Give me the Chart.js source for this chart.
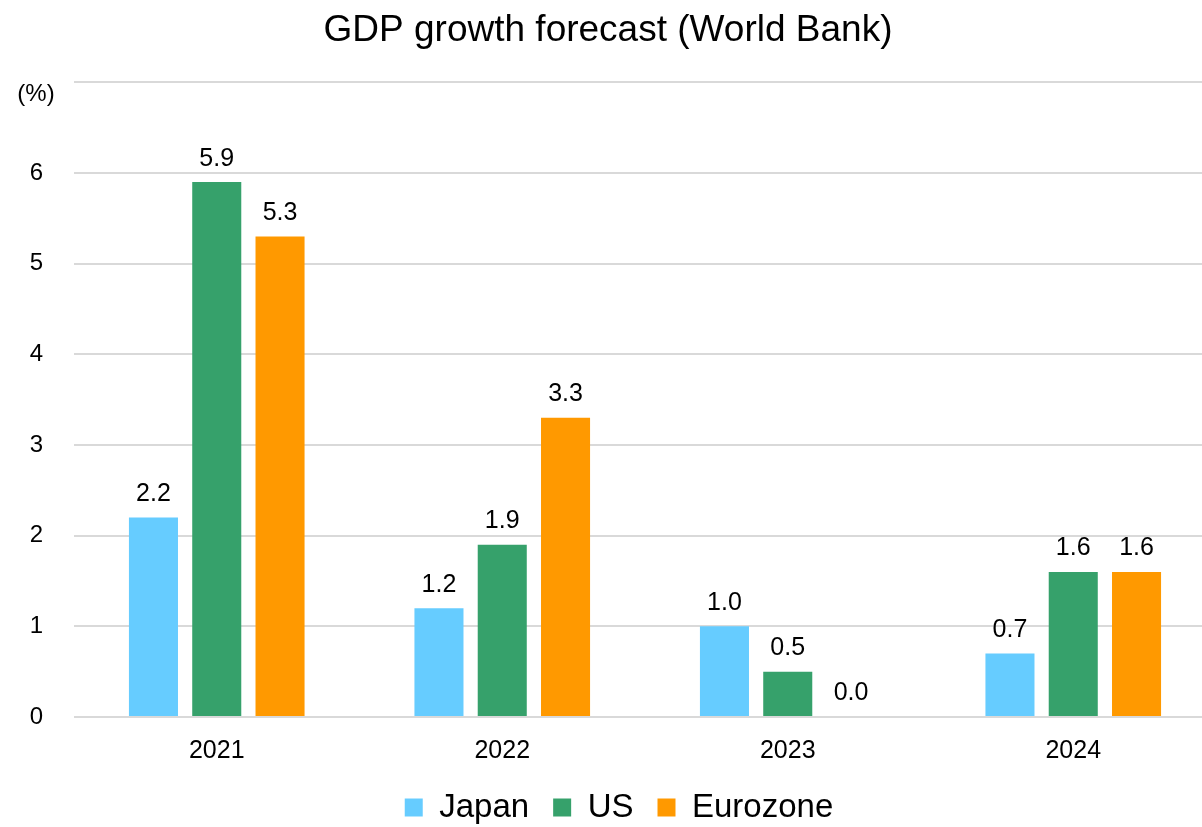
<!DOCTYPE html>
<html>
<head>
<meta charset="utf-8">
<script src="https://cdn.jsdelivr.net/npm/chart.js@4"></script>
<style>
  html, body { margin: 0; padding: 0; background: #fff; overflow: hidden; }
  #wrap { width: 1202px; height: 827px; position: relative; overflow: hidden; }
  canvas { position: absolute; left: 0; top: 0; }
</style>
</head>
<body>
<div id="wrap"><canvas id="c" width="1216" height="827"></canvas></div>
<script>
const categories = ['2021', '2022', '2023', '2024'];
const japan = [2.2, 1.2, 1.0, 0.7];
const us = [5.9, 1.9, 0.5, 1.6];
const eurozone = [5.3, 3.3, 0.0, 1.6];
const seriesNames = ['Japan', 'US', 'Eurozone'];
const yTicks = [0, 1, 2, 3, 4, 5, 6];
const yUnitLabel = '(%)';
const titleText = 'GDP growth forecast (World Bank)';

const FONT = "'Liberation Sans', Arial, sans-serif";

const valueLabels = {
  id: 'valueLabels',
  afterLayout(chart) {
    const lg = chart.legend;
    if (lg) {
      lg.top += 7; lg.bottom += 7;
      lg.left += 11; lg.right += 11;
    }
  },
  afterDatasetsDraw(chart) {
    const ctx = chart.ctx;
    ctx.save();
    ctx.font = '25px ' + FONT;
    ctx.fillStyle = '#000';
    ctx.textAlign = 'center';
    ctx.textBaseline = 'bottom';
    chart.data.datasets.forEach((ds, i) => {
      const meta = chart.getDatasetMeta(i);
      meta.data.forEach((bar, j) => {
        ctx.fillText(ds.data[j].toFixed(1), bar.x, bar.y - 11);
      });
    });
    const ys = chart.scales.y;
    ctx.font = '24px ' + FONT;
    ctx.textAlign = 'center';
    ctx.textBaseline = 'middle';
    ctx.fillText(yUnitLabel, 36, ys.getPixelForValue(7) + 12);
    ctx.restore();
  }
};

new Chart(document.getElementById('c'), {
  type: 'bar',
  data: {
    labels: categories,
    datasets: [
      { label: seriesNames[0], data: japan, backgroundColor: '#66CCFF' },
      { label: seriesNames[1], data: us, backgroundColor: '#36A16B' },
      { label: seriesNames[2], data: eurozone, backgroundColor: '#FF9900' }
    ]
  },
  options: {
    responsive: false,
    animation: false,
    devicePixelRatio: 1,
    layout: { padding: 0 },
    datasets: { bar: { categoryPercentage: 0.665, barPercentage: 0.775 } },
    plugins: {
      title: {
        display: true,
        text: titleText,
        color: '#000',
        font: { family: FONT, size: 37, weight: 'normal' },
        padding: { top: 9, bottom: 29 }
      },
      legend: {
        position: 'bottom',
        labels: {
          color: '#000',
          font: { family: FONT, size: 33 },
          boxWidth: 18,
          boxHeight: 18,
          padding: 24
        }
      },
      tooltip: { enabled: false }
    },
    scales: {
      x: {
        grid: { display: false },
        border: { display: false },
        ticks: { color: '#000', font: { family: FONT, size: 25 }, padding: 11 },
        afterFit(scale) { scale.height = 43; }
      },
      y: {
        min: 0,
        max: 7,
        afterBuildTicks(scale) {
          scale.ticks = yTicks.concat([7]).map(v => ({ value: v }));
        },
        afterFit(scale) { scale.width = 74; },
        grid: { color: '#d9d9d9', lineWidth: 2, drawTicks: false },
        border: { display: false },
        ticks: {
          color: '#000',
          font: { family: FONT, size: 24 },
          padding: 31,
          callback: v => (v === 7 ? '' : String(v))
        }
      }
    }
  },
  plugins: [valueLabels]
});
</script>
</body>
</html>
